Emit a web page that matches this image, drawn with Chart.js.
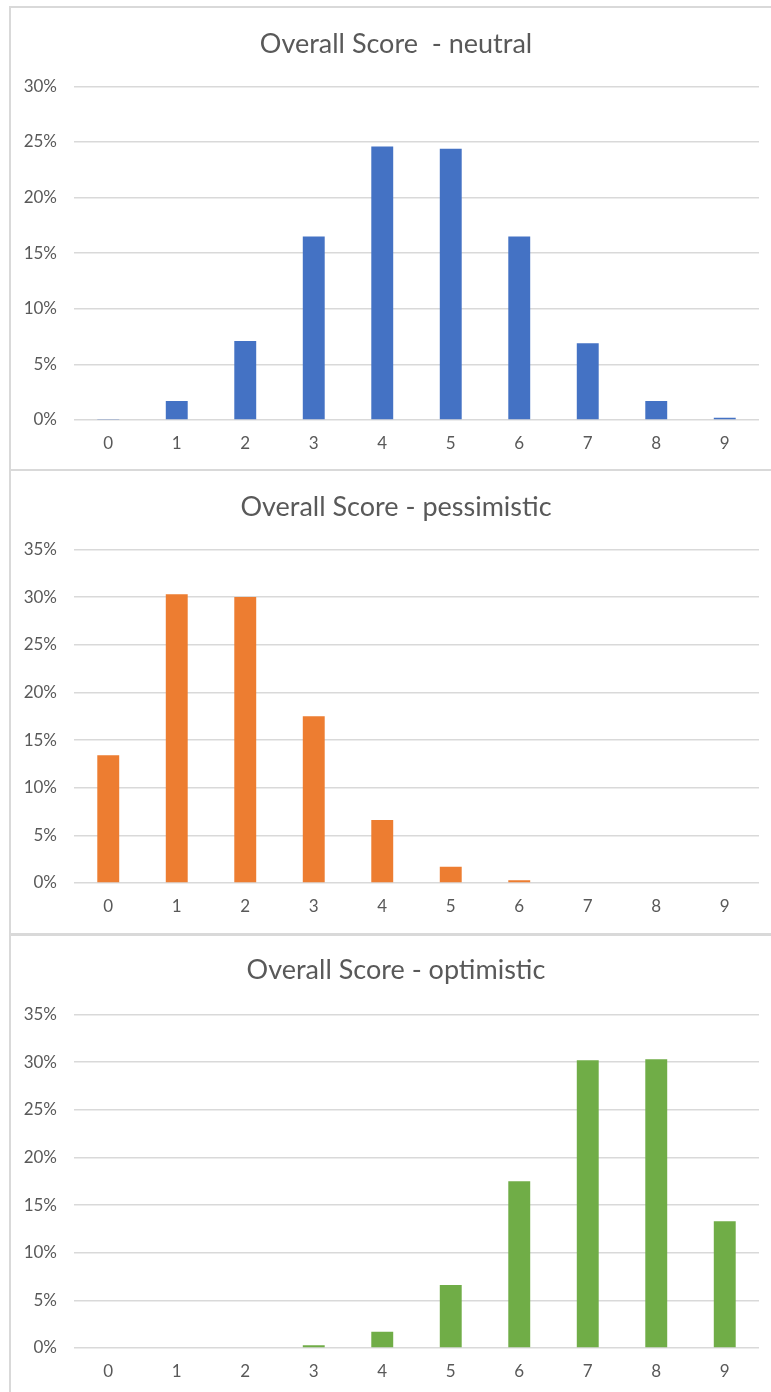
<!DOCTYPE html>
<html>
<head>
<meta charset="utf-8">
<script src="https://cdn.jsdelivr.net/npm/chart.js@4.4.1/dist/chart.umd.min.js"></script>
<style>
  html, body { margin: 0; padding: 0; background: #fff; }
  body { width: 771px; height: 1392px; position: relative; overflow: hidden; }
  .box { position: absolute; left: 9px; width: 762px; background: #fff;
         border-left: 2px solid #d9d9d9; border-top: 2px solid #d9d9d9; box-sizing: border-box; }
  .box canvas { display: block; }
</style>
</head>
<body>
<div class="box" id="b1" style="top:6px;height:463px;"><canvas id="c1"></canvas></div>
<div class="box" id="b2" style="top:469px;height:464px;"><canvas id="c2"></canvas></div>
<div class="box" id="b3" style="top:933px;height:459px;border-top-width:3px;"><canvas id="c3"></canvas></div>
<script>
const categories = ["0","1","2","3","4","5","6","7","8","9"];
const neutralValues     = [0.001, 0.017, 0.071, 0.165, 0.246, 0.244, 0.165, 0.069, 0.017, 0.002];
const pessimisticValues = [0.134, 0.303, 0.300, 0.175, 0.066, 0.017, 0.003, 0, 0, 0];
const optimisticValues  = [0, 0, 0, 0.003, 0.017, 0.066, 0.175, 0.302, 0.303, 0.133];
const titles = ["Overall Score  - neutral", "Overall Score - pessimistic", "Overall Score - optimistic"];
const yMax = [0.30, 0.35, 0.35];
const colors = ["#4472c4", "#ed7d31", "#70ad47"];

const FONT = "Lato, 'Open Sans', sans-serif";
const TXT = "#595959";
const GRID = "#d9d9d9";

const titleShift = {
  id: "titleShift",
  afterLayout(chart) {
    const t = chart.titleBlock;
    if (t) { t.left += 11; t.right += 11; }
  }
};

function makeChart(id, w, h, title, values, color, max, titleTop) {
  const cv = document.getElementById(id);
  cv.width = w; cv.height = h;
  cv.style.width = w + "px"; cv.style.height = h + "px";
  return new Chart(cv, {
    type: "bar",
    data: {
      labels: categories,
      datasets: [{ data: values, backgroundColor: color, borderWidth: 0,
                   categoryPercentage: 1.0, barPercentage: 0.32 }]
    },
    options: {
      responsive: false,
      animation: false,
      devicePixelRatio: 1,
      layout: { padding: { left: 0, right: 12, top: 0, bottom: 0 } },
      plugins: {
        legend: { display: false },
        tooltip: { enabled: false },
        title: {
          display: true, text: title, color: TXT,
          font: { family: FONT, size: 27, weight: "normal", lineHeight: 1.2 },
          padding: { top: titleTop, bottom: 46 - titleTop }
        }
      },
      scales: {
        x: {
          grid: { display: false, drawTicks: false },
          border: { display: false },
          ticks: { color: TXT, font: { family: FONT, size: 17 }, padding: 13 },
          afterFit: (s) => { s.height = h - 412; }
        },
        y: {
          min: 0, max: max,
          grid: { color: GRID, lineWidth: 1.5, drawTicks: false },
          border: { display: false },
          ticks: {
            stepSize: 0.05, color: TXT, font: { family: FONT, size: 17 }, padding: 17,
            callback: (v) => Math.round(v * 100) + "%"
          },
          afterFit: (s) => { s.width = 63; }
        }
      }
    },
    plugins: [titleShift]
  });
}

makeChart("c1", 760, 461, titles[0], neutralValues, colors[0], yMax[0], 20);
makeChart("c2", 760, 462, titles[1], pessimisticValues, colors[1], yMax[1], 20);
makeChart("c3", 760, 456, titles[2], optimisticValues, colors[2], yMax[2], 18);
</script>
</body>
</html>
